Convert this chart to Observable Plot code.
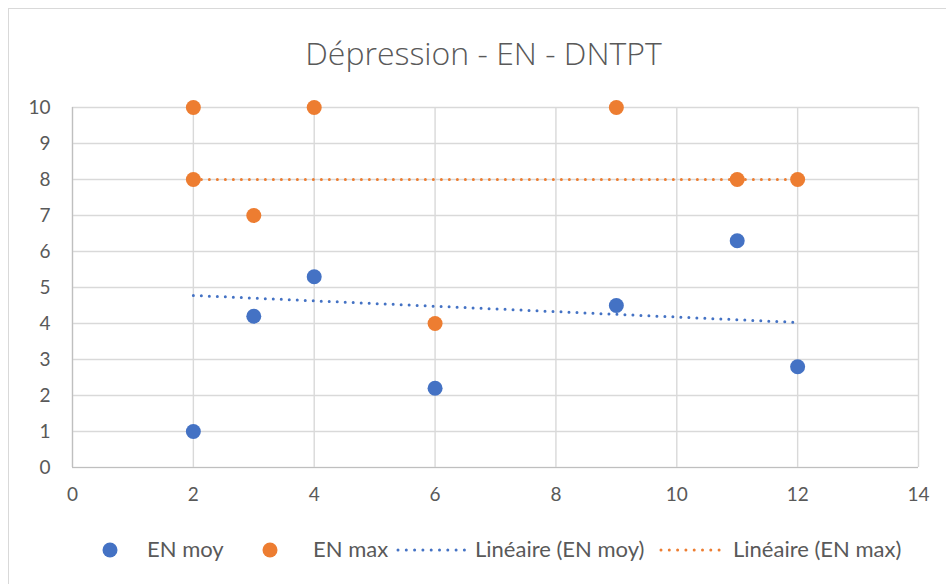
<!DOCTYPE html>
<html>
<head>
<meta charset="utf-8">
<script src="https://cdn.jsdelivr.net/npm/d3@7"></script>
<script src="https://cdn.jsdelivr.net/npm/@observablehq/plot@0.6"></script>
<style>
  html, body { margin: 0; padding: 0; background: #fff; }
  #wrap { position: relative; width: 946px; height: 584px; overflow: hidden; background: #fff; }
  #frame { position: absolute; left: 8px; top: 8px; width: 1000px; height: 1000px; border: 1px solid #d9d9d9; box-sizing: border-box; }
  #title { position: absolute; left: 0; top: 37px; width: 967px; text-align: center; font-family: "Open Sans", sans-serif; font-weight: 300; font-size: 32px; line-height: 32px; color: #595959; white-space: nowrap; }
  #plot { position: absolute; left: 0; top: 90px; }
  .lg { position: absolute; top: 538px; font-family: Lato, sans-serif; font-size: 22px; line-height: 22px; color: #595959; white-space: nowrap; }
  .sym { position: absolute; top: 538px; }
</style>
</head>
<body>
<div id="wrap">
  <div id="frame"></div>
  <div id="title">Dépression - EN - DNTPT</div>
  <div id="plot"></div>
  <div id="legend"></div>
</div>
<script>
// ---- data ----
const xMoy = [2, 3, 4, 6, 9, 11, 12];
const yMoy = [1, 4.2, 5.3, 2.2, 4.5, 6.3, 2.8];
const xMax = [2, 2, 3, 4, 6, 9, 11, 12];
const yMax = [10, 8, 7, 10, 4, 10, 8, 8];
// trend line endpoints (Linéaire) as drawn
const trendMoyX = [2, 12];
const trendMoyY = [4.78, 4.03];
const trendMaxX = [2, 12];
const trendMaxY = [8, 8];
const xTicks = [0, 2, 4, 6, 8, 10, 12, 14];
const yTicks = [0, 1, 2, 3, 4, 5, 6, 7, 8, 9, 10];
const seriesNames = ["EN moy", "EN max", "Linéaire (EN moy)", "Linéaire (EN max)"];
const colors = ["#4472C4", "#ED7D31"];

const moy = xMoy.map((x, i) => ({x, y: yMoy[i]}));
const max = xMax.map((x, i) => ({x, y: yMax[i]}));
const tMoy = trendMoyX.map((x, i) => ({x, y: trendMoyY[i]}));
const tMax = trendMaxX.map((x, i) => ({x, y: trendMaxY[i]}));

const chart = Plot.plot({
  width: 946,
  height: 410,
  marginLeft: 72,
  marginRight: 28,
  marginTop: 17,
  marginBottom: 33,
  style: {fontFamily: "Lato, sans-serif", fontSize: "19px", color: "#595959", background: "transparent", overflow: "visible"},
  x: {domain: [0, 14]},
  y: {domain: [0, 10]},
  marks: [
    Plot.gridX(xTicks, {stroke: "#d9d9d9", strokeOpacity: 1, strokeWidth: 1.4}),
    Plot.gridY(yTicks, {stroke: "#d9d9d9", strokeOpacity: 1, strokeWidth: 1.4}),
    Plot.ruleX([0], {stroke: "#bfbfbf", strokeWidth: 1.2}),
    Plot.ruleY([0], {stroke: "#bfbfbf", strokeWidth: 1.2}),
    Plot.axisX(xTicks, {tickSize: 0, tickPadding: 20, fill: "#595959", fontSize: 19, label: null}),
    Plot.axisY(yTicks, {tickSize: 0, tickPadding: 22, fill: "#595959", fontSize: 19, label: null}),
    Plot.line(tMoy, {x: "x", y: "y", stroke: colors[0], strokeWidth: 3, strokeDasharray: "0 8", strokeLinecap: "round"}),
    Plot.line(tMax, {x: "x", y: "y", stroke: colors[1], strokeWidth: 3, strokeDasharray: "0 8", strokeLinecap: "round"}),
    Plot.dot(moy, {x: "x", y: "y", r: 7.5, fill: colors[0], stroke: "none"}),
    Plot.dot(max, {x: "x", y: "y", r: 7.5, fill: colors[1], stroke: "none"})
  ]
});
document.getElementById("plot").appendChild(chart);

// ---- legend ----
const legend = document.getElementById("legend");
const items = [
  {kind: "dot", color: colors[0], symX: 110, textX: 147, name: seriesNames[0]},
  {kind: "dot", color: colors[1], symX: 270, textX: 313, name: seriesNames[1]},
  {kind: "line", color: colors[0], symX: 398, symX2: 465, textX: 475, name: seriesNames[2]},
  {kind: "line", color: colors[1], symX: 661, symX2: 726, textX: 733, name: seriesNames[3]}
];
const ns = "http://www.w3.org/2000/svg";
for (const it of items) {
  const svg = document.createElementNS(ns, "svg");
  svg.setAttribute("class", "sym");
  if (it.kind === "dot") {
    svg.setAttribute("width", 20); svg.setAttribute("height", 24);
    svg.style.left = (it.symX - 10) + "px";
    const c = document.createElementNS(ns, "circle");
    c.setAttribute("cx", 10); c.setAttribute("cy", 12); c.setAttribute("r", 7.5);
    c.setAttribute("fill", it.color);
    svg.appendChild(c);
  } else {
    const w = it.symX2 - it.symX + 4;
    svg.setAttribute("width", w); svg.setAttribute("height", 24);
    svg.style.left = (it.symX - 2) + "px";
    const l = document.createElementNS(ns, "line");
    l.setAttribute("x1", 2); l.setAttribute("x2", w - 2);
    l.setAttribute("y1", 12); l.setAttribute("y2", 12);
    l.setAttribute("stroke", it.color); l.setAttribute("stroke-width", 3);
    l.setAttribute("stroke-dasharray", "0 8.3"); l.setAttribute("stroke-linecap", "round");
    svg.appendChild(l);
  }
  legend.appendChild(svg);
  const t = document.createElement("div");
  t.className = "lg";
  t.style.left = it.textX + "px";
  t.textContent = it.name;
  legend.appendChild(t);
}
</script>
</body>
</html>
